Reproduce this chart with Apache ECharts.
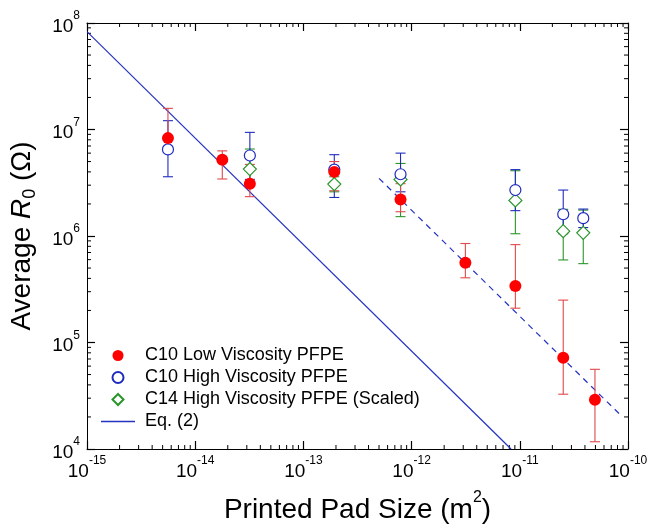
<!DOCTYPE html>
<html>
<head>
<meta charset="utf-8">
<script src="https://cdn.jsdelivr.net/npm/echarts@6/dist/echarts.min.js"></script>
<style>html,body{margin:0;padding:0;background:#fff}#c{width:650px;height:528px}</style>
</head>
<body>
<div id="c"></div>
<script>
// ---- data ----
const redX  = [5.6e-15, 1.78e-14, 3.2e-14, 1.93e-13, 7.9e-13, 3.14e-12, 9.1e-12, 2.52e-11, 4.95e-11];
const redY  = [8.3e6, 5.2e6, 3.1e6, 4.0e6, 2.2e6, 5.6e5, 3.4e5, 7.2e4, 2.9e4];
const redHi = [1.58e7, 6.3e6, 4.7e6, 5.0e6, 3.1e6, 8.5e5, 8.3e5, 2.5e5, 5.6e4];
const redLo = [6.5e6, 3.43e6, 2.34e6, 2.66e6, 1.69e6, 4.05e5, 2.1e5, 3.27e4, 1.17e4];

const blueX  = [5.6e-15, 3.2e-14, 1.93e-13, 7.9e-13, 9.1e-12, 2.52e-11, 3.86e-11];
const blueY  = [6.5e6, 5.7e6, 4.2e6, 3.8e6, 2.7e6, 1.6e6, 1.47e6];
const blueHi = [1.21e7, 9.4e6, 5.8e6, 6.0e6, 4.2e6, 2.7e6, 1.79e6];
const blueLo = [3.6e6, 3.4e6, 2.3e6, 2.6e6, 1.73e6, 1.05e6, 1.2e6];

const greenX  = [3.2e-14, 1.93e-13, 7.9e-13, 9.1e-12, 2.52e-11, 3.86e-11];
const greenY  = [4.25e6, 3.07e6, 3.4e6, 2.16e6, 1.11e6, 1.07e6];
const greenHi = [6.56e6, 3.6e6, 4.8e6, 4.1e6, 1.78e6, 1.75e6];
const greenLo = [3.0e6, 2.6e6, 1.52e6, 1.05e6, 5.96e5, 5.5e5];

const eqX = [1e-15, 8.3e-12];
const eqY = [8.3e7, 1e4];
const dashX = [5.0e-13, 8.9e-11];
const dashY = [3.48e6, 2.0e4];

const xDecades = [-15, -14, -13, -12, -11];
const yDecades = [4, 5, 6, 7];
const minorMult = [2, 3, 4, 5, 6, 7, 8, 9];

const names = ['C10 Low Viscosity PFPE', 'C10 High Viscosity PFPE', 'C14 High Viscosity PFPE (Scaled)', 'Eq. (2)'];

// ---- build ----
const FONT = '"Liberation Sans", Arial, sans-serif';
const RED = '#ff0000', RED_E = '#e0484a', BLUE = '#1f2bbf', GREEN = '#2a962a', LINEB = '#2433c0';
const X_MIN = 1e-15, X_MAX = 1e-10, Y_MIN = 1e4, Y_MAX = 1e8;

const zip = (a, b) => a.map((v, i) => [v, b[i]]);
const zip3 = (a, b, c) => a.map((v, i) => [v, b[i], c[i]]);

function errSeries(x, lo, hi, color, z) {
  return {
    type: 'custom', z: z, silent: true,
    xAxisIndex: 0, yAxisIndex: 0,
    encode: { x: 0, y: [1, 2] },
    data: zip3(x, lo, hi),
    renderItem: function (params, api) {
      const xv = api.value(0);
      const pHi = api.coord([xv, api.value(2)]);
      const pLo = api.coord([xv, api.value(1)]);
      const w = 5;
      const st = { stroke: color, lineWidth: 1.1 };
      return {
        type: 'group',
        children: [
          { type: 'line', shape: { x1: pHi[0], y1: pHi[1], x2: pLo[0], y2: pLo[1] }, style: st },
          { type: 'line', shape: { x1: pHi[0] - w, y1: pHi[1], x2: pHi[0] + w, y2: pHi[1] }, style: st },
          { type: 'line', shape: { x1: pLo[0] - w, y1: pLo[1], x2: pLo[0] + w, y2: pLo[1] }, style: st }
        ]
      };
    }
  };
}

const minorXData = [];
xDecades.forEach(e => minorMult.forEach(m => minorXData.push([m * Math.pow(10, e), Y_MIN])));
const minorYData = [];
yDecades.forEach(e => minorMult.forEach(m => minorYData.push([X_MIN, m * Math.pow(10, e)])));

const minorLen = 4;
const minorXSeries = {
  type: 'custom', silent: true, z: 1, clip: false,
  data: minorXData, encode: { x: 0, y: 1 },
  renderItem: function (params, api) {
    const cs = params.coordSys;
    const px = api.coord([api.value(0), api.value(1)])[0];
    const st = { stroke: '#000', lineWidth: 1 };
    return { type: 'group', children: [
      { type: 'line', shape: { x1: px, y1: cs.y + cs.height, x2: px, y2: cs.y + cs.height - minorLen }, style: st },
      { type: 'line', shape: { x1: px, y1: cs.y, x2: px, y2: cs.y + minorLen }, style: st }
    ] };
  }
};
const minorYSeries = {
  type: 'custom', silent: true, z: 1, clip: false,
  data: minorYData, encode: { x: 0, y: 1 },
  renderItem: function (params, api) {
    const cs = params.coordSys;
    const py = api.coord([api.value(0), api.value(1)])[1];
    const st = { stroke: '#000', lineWidth: 1 };
    return { type: 'group', children: [
      { type: 'line', shape: { x1: cs.x, y1: py, x2: cs.x + minorLen, y2: py }, style: st },
      { type: 'line', shape: { x1: cs.x + cs.width, y1: py, x2: cs.x + cs.width - minorLen, y2: py }, style: st }
    ] };
  }
};

const labelRich = {
  b: { fontSize: 19, lineHeight: 26, verticalAlign: 'bottom', fontFamily: FONT, color: '#000' },
  e: { fontSize: 12, lineHeight: 12, verticalAlign: 'top', fontFamily: FONT, color: '#000' }
};
const expFmt = v => '{b|10}{e|' + Math.round(Math.log10(v)) + '}';

const axisCommon = {
  type: 'log', logBase: 10,
  axisLine: { show: true, lineStyle: { color: '#000', width: 1 } },
  axisTick: { show: true, inside: true, length: 8, lineStyle: { color: '#000', width: 1.2 } },
  splitLine: { show: false },
  minorTick: { show: false },
  minorSplitLine: { show: false }
};

const option = {
  animation: false,
  backgroundColor: '#fff',
  grid: { left: 87, right: 22, top: 23, bottom: 79, containLabel: false, outerBoundsMode: 'none' },
  legend: {
    orient: 'vertical', left: 101, top: 346, padding: 0,
    itemWidth: 34, itemHeight: 11, itemGap: 3, symbolKeepAspect: true,
    textStyle: { fontSize: 18, lineHeight: 19, fontFamily: FONT, color: '#000', padding: [0, 0, 0, 5] },
    data: [
      { name: names[0], icon: 'circle' },
      { name: names[1], icon: 'circle' },
      { name: names[2], icon: 'path://M5,0L10,5L5,10L0,5Z' },
      { name: names[3], icon: 'path://M0,0L34,0L34,1.6L0,1.6Z', itemStyle: { color: LINEB } }
    ]
  },
  xAxis: [
    Object.assign({}, axisCommon, {
      position: 'bottom', min: X_MIN, max: X_MAX,
      axisLabel: { show: true, margin: 6, formatter: expFmt, rich: labelRich },
      name: '{a|Printed Pad Size (m}{p|2}{a|)}', nameLocation: 'middle', nameGap: 41,
      nameTextStyle: { rich: {
        a: { fontSize: 28, lineHeight: 34, verticalAlign: 'bottom', fontFamily: FONT, color: '#000' },
        p: { fontSize: 16, lineHeight: 14, verticalAlign: 'top', fontFamily: FONT, color: '#000' }
      } }
    }),
    Object.assign({}, axisCommon, {
      position: 'top', min: X_MIN, max: X_MAX, axisLabel: { show: false }
    })
  ],
  yAxis: [
    Object.assign({}, axisCommon, {
      position: 'left', min: Y_MIN, max: Y_MAX,
      axisLabel: { show: true, margin: 7, formatter: expFmt, rich: labelRich },
      name: '{a|Average }{i|R}{s|0}{a| (Ω)}', nameLocation: 'middle', nameGap: 48,
      nameTextStyle: { rich: {
        a: { fontSize: 28, lineHeight: 34, fontFamily: FONT, color: '#000' },
        i: { fontSize: 28, lineHeight: 34, fontStyle: 'italic', fontFamily: FONT, color: '#000' },
        s: { fontSize: 18, lineHeight: 16, verticalAlign: 'bottom', fontFamily: FONT, color: '#000' }
      } }
    }),
    Object.assign({}, axisCommon, {
      position: 'right', min: Y_MIN, max: Y_MAX, axisLabel: { show: false }
    })
  ],
  series: [
    minorXSeries,
    minorYSeries,
    {
      name: names[3], type: 'line', z: 2, data: zip(eqX, eqY),
      symbol: 'none', showSymbol: false, silent: true,
      lineStyle: { color: LINEB, width: 1.2 }, itemStyle: { color: LINEB }
    },
    {
      name: 'dashed', type: 'line', z: 2, data: zip(dashX, dashY),
      symbol: 'none', showSymbol: false, silent: true,
      lineStyle: { color: LINEB, width: 1.2, type: [6, 5] }
    },
    errSeries(greenX, greenLo, greenHi, GREEN, 3),
    errSeries(blueX, blueLo, blueHi, BLUE, 3),
    errSeries(redX, redLo, redHi, RED_E, 3),
    {
      name: names[2], type: 'scatter', z: 4, data: zip(greenX, greenY),
      symbol: 'diamond', symbolSize: 13, silent: true,
      itemStyle: { color: '#fff', borderColor: GREEN, borderWidth: 1.2, opacity: 1 }
    },
    {
      name: names[1], type: 'scatter', z: 5, data: zip(blueX, blueY),
      symbol: 'circle', symbolSize: 11, silent: true,
      itemStyle: { color: '#fff', borderColor: BLUE, borderWidth: 1.2, opacity: 1 }
    },
    {
      name: names[0], type: 'scatter', z: 6, data: zip(redX, redY),
      symbol: 'circle', symbolSize: 12, silent: true,
      itemStyle: { color: RED, opacity: 1 }
    }
  ]
};

const chart = echarts.init(document.getElementById('c'), null, { renderer: 'canvas' });
chart.setOption(option);
</script>
</body>
</html>
